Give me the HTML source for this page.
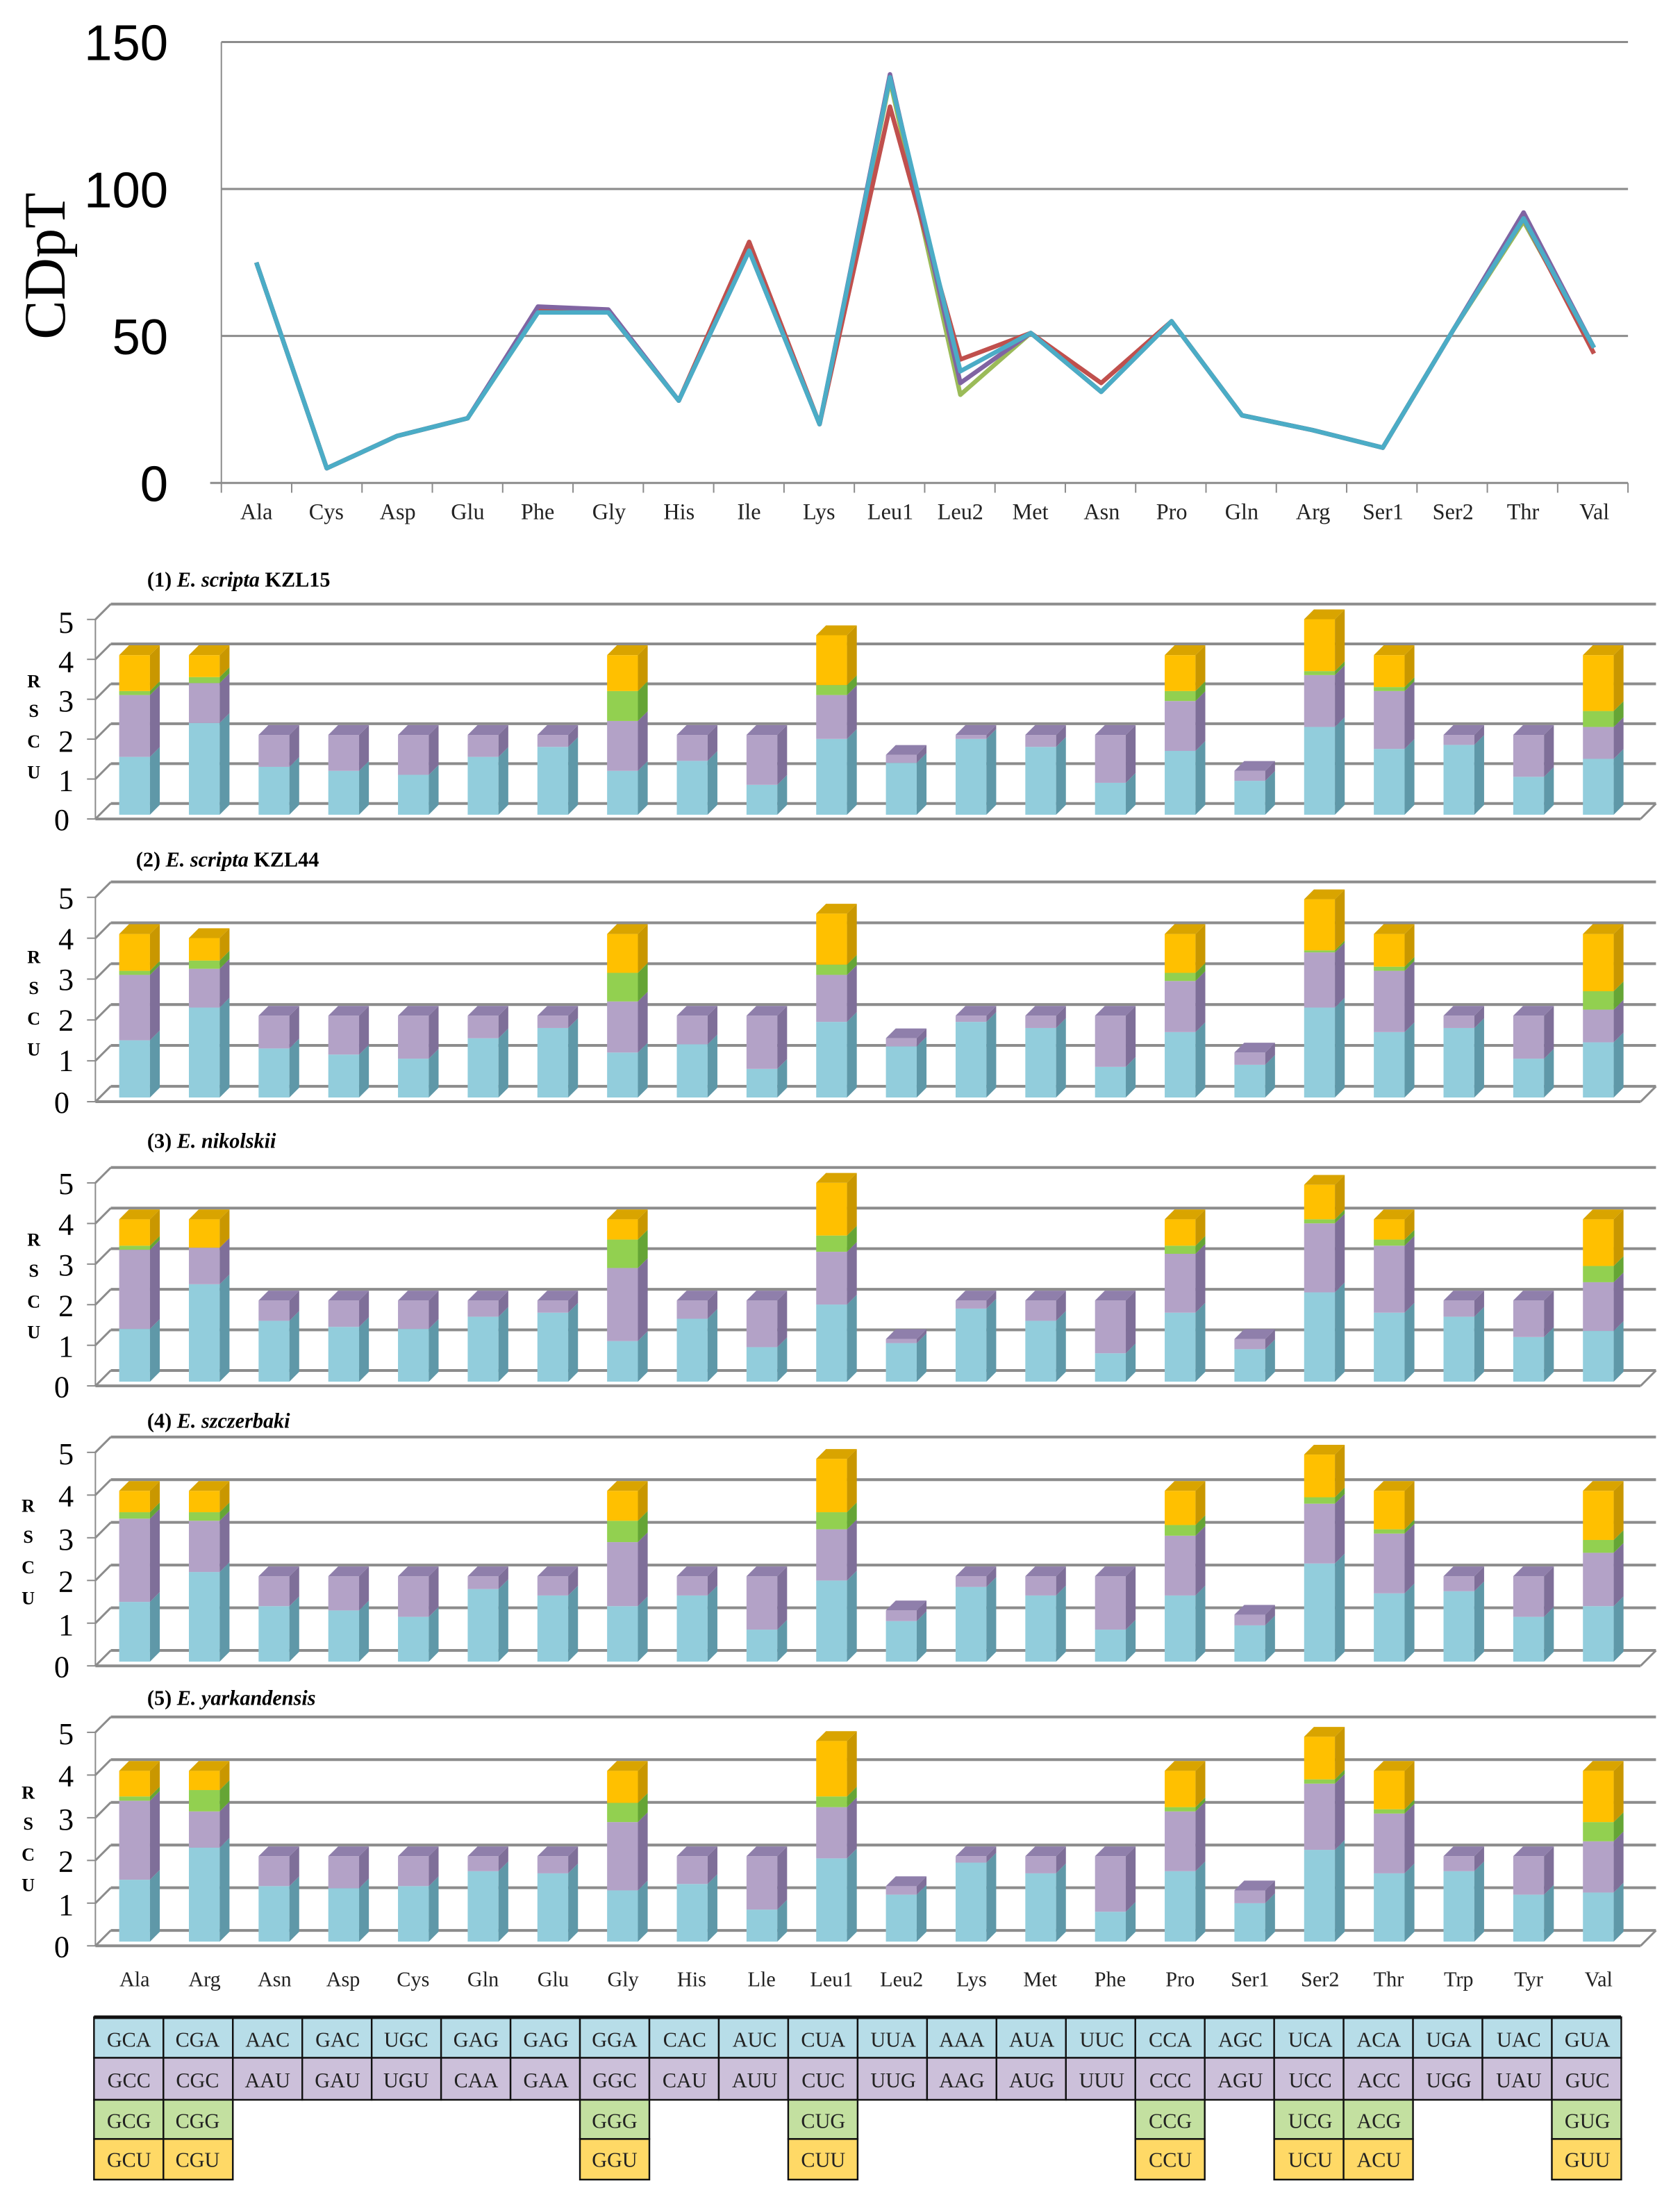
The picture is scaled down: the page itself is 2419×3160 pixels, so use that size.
<!DOCTYPE html>
<html><head><meta charset="utf-8"><style>
html,body{margin:0;padding:0;background:#fff;}
svg{display:block;}
.s{font-family:"Liberation Serif",serif;}
.a{font-family:"Liberation Sans",sans-serif;}
</style></head><body>
<svg id="g" width="2419" height="3160" viewBox="0 0 1200 1568" xmlns="http://www.w3.org/2000/svg">
<rect width="1200" height="1568" fill="#fff"/>
<g stroke="#8c8c8c" stroke-width="1.5">
<line x1="158" y1="30" x2="1163" y2="30"/><line x1="158" y1="135" x2="1163" y2="135"/>
<line x1="158" y1="240" x2="1163" y2="240"/><line x1="150" y1="345" x2="1163" y2="345"/>
<line x1="158" y1="30" x2="158" y2="345" stroke-width="1"/>
</g>
<g class="a" font-size="36" text-anchor="end" fill="#000">
<text x="120" y="43">150</text><text x="120" y="148">100</text><text x="120" y="253">50</text><text x="120" y="358">0</text>
</g>
<text class="s" font-size="42" transform="translate(46,190) rotate(-90)" text-anchor="middle">CDpT</text>
<g id="topticks"></g>
<g class="s" font-size="16" text-anchor="middle" fill="#222">
<text x="183" y="371">Ala</text><text x="233" y="371">Cys</text><text x="284" y="371">Asp</text><text x="334" y="371">Glu</text><text x="384" y="371">Phe</text><text x="435" y="371">Gly</text><text x="485" y="371">His</text><text x="535" y="371">Ile</text><text x="585" y="371">Lys</text><text x="636" y="371">Leu1</text><text x="686" y="371">Leu2</text><text x="736" y="371">Met</text><text x="787" y="371">Asn</text><text x="837" y="371">Pro</text><text x="887" y="371">Gln</text><text x="938" y="371">Arg</text><text x="988" y="371">Ser1</text><text x="1038" y="371">Ser2</text><text x="1088" y="371">Thr</text><text x="1139" y="371">Val</text>
</g>
<g id="lines"></g>
<g class="s" font-size="15" font-weight="bold">
<text x="105" y="419">(1) <tspan font-style="italic">E. scripta</tspan> KZL15</text>
<text x="97" y="619">(2) <tspan font-style="italic">E. scripta</tspan> KZL44</text>
<text x="105" y="820">(3) <tspan font-style="italic">E. nikolskii</tspan></text>
<text x="105" y="1020">(4) <tspan font-style="italic">E. szczerbaki</tspan></text>
<text x="105" y="1218">(5) <tspan font-style="italic">E. yarkandensis</tspan></text>
</g>
<g id="panels"></g>
<g class="s" font-size="22" text-anchor="middle">
<text x="47" y="452">5</text><text x="47" y="480">4</text><text x="47" y="508">3</text><text x="47" y="537">2</text><text x="47" y="565">1</text><text x="44" y="593">0</text>
<text x="47" y="649">5</text><text x="47" y="678">4</text><text x="47" y="707">3</text><text x="47" y="736">2</text><text x="47" y="765">1</text><text x="44" y="795">0</text>
<text x="47" y="853">5</text><text x="47" y="882">4</text><text x="47" y="911">3</text><text x="47" y="940">2</text><text x="47" y="969">1</text><text x="44" y="998">0</text>
<text x="47" y="1046">5</text><text x="47" y="1076">4</text><text x="47" y="1107">3</text><text x="47" y="1137">2</text><text x="47" y="1168">1</text><text x="44" y="1198">0</text>
<text x="47" y="1246">5</text><text x="47" y="1276">4</text><text x="47" y="1307">3</text><text x="47" y="1337">2</text><text x="47" y="1368">1</text><text x="44" y="1398">0</text>
</g>
<g class="s" font-size="13" font-weight="bold" text-anchor="middle">
<text x="24" y="491">R</text><text x="24" y="512">S</text><text x="24" y="534">C</text><text x="24" y="556">U</text>
<text x="24" y="688">R</text><text x="24" y="710">S</text><text x="24" y="732">C</text><text x="24" y="754">U</text>
<text x="24" y="890">R</text><text x="24" y="912">S</text><text x="24" y="934">C</text><text x="24" y="956">U</text>
<text x="20" y="1080">R</text><text x="20" y="1102">S</text><text x="20" y="1124">C</text><text x="20" y="1146">U</text>
<text x="20" y="1285">R</text><text x="20" y="1307">S</text><text x="20" y="1329">C</text><text x="20" y="1351">U</text>
</g>
<g class="s" font-size="15" text-anchor="middle" fill="#222">
<text x="96" y="1419">Ala</text><text x="146" y="1419">Arg</text><text x="196" y="1419">Asn</text><text x="245" y="1419">Asp</text><text x="295" y="1419">Cys</text><text x="345" y="1419">Gln</text><text x="395" y="1419">Glu</text><text x="445" y="1419">Gly</text><text x="494" y="1419">His</text><text x="544" y="1419">Lle</text><text x="594" y="1419">Leu1</text><text x="644" y="1419">Leu2</text><text x="694" y="1419">Lys</text><text x="743" y="1419">Met</text><text x="793" y="1419">Phe</text><text x="843" y="1419">Pro</text><text x="893" y="1419">Ser1</text><text x="943" y="1419">Ser2</text><text x="992" y="1419">Thr</text><text x="1042" y="1419">Trp</text><text x="1092" y="1419">Tyr</text><text x="1142" y="1419">Val</text>
</g>
<g id="table"></g>
<g class="s" font-size="15" text-anchor="middle" fill="#222">
<text x="92" y="1462">GCA</text><text x="141" y="1462">CGA</text><text x="191" y="1462">AAC</text><text x="241" y="1462">GAC</text><text x="290" y="1462">UGC</text><text x="340" y="1462">GAG</text><text x="390" y="1462">GAG</text><text x="439" y="1462">GGA</text><text x="489" y="1462">CAC</text><text x="539" y="1462">AUC</text><text x="588" y="1462">CUA</text><text x="638" y="1462">UUA</text><text x="687" y="1462">AAA</text><text x="737" y="1462">AUA</text><text x="787" y="1462">UUC</text><text x="836" y="1462">CCA</text><text x="886" y="1462">AGC</text><text x="936" y="1462">UCA</text><text x="985" y="1462">ACA</text><text x="1035" y="1462">UGA</text><text x="1085" y="1462">UAC</text><text x="1134" y="1462">GUA</text>
<text x="92" y="1491">GCC</text><text x="141" y="1491">CGC</text><text x="191" y="1491">AAU</text><text x="241" y="1491">GAU</text><text x="290" y="1491">UGU</text><text x="340" y="1491">CAA</text><text x="390" y="1491">GAA</text><text x="439" y="1491">GGC</text><text x="489" y="1491">CAU</text><text x="539" y="1491">AUU</text><text x="588" y="1491">CUC</text><text x="638" y="1491">UUG</text><text x="687" y="1491">AAG</text><text x="737" y="1491">AUG</text><text x="787" y="1491">UUU</text><text x="836" y="1491">CCC</text><text x="886" y="1491">AGU</text><text x="936" y="1491">UCC</text><text x="985" y="1491">ACC</text><text x="1035" y="1491">UGG</text><text x="1085" y="1491">UAU</text><text x="1134" y="1491">GUC</text>
<text x="92" y="1520">GCG</text><text x="141" y="1520">CGG</text><text x="439" y="1520">GGG</text><text x="588" y="1520">CUG</text><text x="836" y="1520">CCG</text><text x="936" y="1520">UCG</text><text x="985" y="1520">ACG</text><text x="1134" y="1520">GUG</text>
<text x="92" y="1548">GCU</text><text x="141" y="1548">CGU</text><text x="439" y="1548">GGU</text><text x="588" y="1548">CUU</text><text x="836" y="1548">CCU</text><text x="936" y="1548">UCU</text><text x="985" y="1548">ACU</text><text x="1134" y="1548">GUU</text>
</g>
</svg>
<script>
(function(){
var NS="http://www.w3.org/2000/svg";
function el(p,t,a){var e=document.createElementNS(NS,t);for(var k in a)e.setAttribute(k,a[k]);p.appendChild(e);return e;}
var tt=document.getElementById("topticks");
for(var i=0;i<=20;i++){var x=158+i*50.25;el(tt,"line",{x1:x,y1:345,x2:x,y2:352,stroke:"#8c8c8c","stroke-width":1});}
var base=[75,5,16,22,58,58,28,79,20,138,38,51,31,55,23,18,12,52,90,46];
var ser=[
 ["#9bbb59",{7:81,9:137,10:30,18:89}],
 ["#c0504d",{7:82,9:128,10:42,12:34,4:59,5:58,19:44}],
 ["#8064a2",{9:139,10:34,4:60,5:59,18:92}],
 ["#4bacc6",{}]];
var lg=document.getElementById("lines");
ser.forEach(function(s){var pts=[];for(var i=0;i<20;i++){var v=(s[1][i]!==undefined)?s[1][i]:base[i];pts.push((183+50.3*i)+","+(345-v*2.1));}
 el(lg,"polyline",{points:pts.join(" "),fill:"none",stroke:s[0],"stroke-width":3.2,"stroke-linejoin":"round"});});
var P=[
[[1.45,3.0,3.1,4],[2.3,3.3,3.45,4],[1.2,2],[1.1,2],[1.0,2],[1.45,2],[1.7,2],[1.1,2.35,3.1,4],[1.35,2],[0.75,2],[1.9,3.0,3.25,4.5],[1.3,1.5],[1.9,2],[1.7,2],[0.8,2],[1.6,2.85,3.1,4],[0.85,1.1],[2.2,3.5,3.6,4.9],[1.65,3.1,3.2,4],[1.75,2],[0.95,2],[1.4,2.2,2.6,4]],
[[1.4,3.0,3.1,4],[2.2,3.15,3.35,3.9],[1.2,2],[1.05,2],[0.95,2],[1.45,2],[1.7,2],[1.1,2.35,3.05,4],[1.3,2],[0.7,2],[1.85,3.0,3.25,4.5],[1.25,1.45],[1.85,2],[1.7,2],[0.75,2],[1.6,2.85,3.05,4],[0.8,1.1],[2.2,3.55,3.6,4.85],[1.6,3.1,3.2,4],[1.7,2],[0.95,2],[1.35,2.15,2.6,4]],
[[1.3,3.25,3.35,4],[2.4,3.3,3.3,4],[1.5,2],[1.35,2],[1.3,2],[1.6,2],[1.7,2],[1.0,2.8,3.5,4],[1.55,2],[0.85,2],[1.9,3.2,3.6,4.9],[0.95,1.05],[1.8,2],[1.5,2],[0.7,2],[1.7,3.15,3.35,4],[0.8,1.05],[2.2,3.9,4.0,4.85],[1.7,3.35,3.5,4],[1.6,2],[1.1,2],[1.25,2.45,2.85,4]],
[[1.4,3.35,3.5,4],[2.1,3.3,3.5,4],[1.3,2],[1.2,2],[1.05,2],[1.7,2],[1.55,2],[1.3,2.8,3.3,4],[1.55,2],[0.75,2],[1.9,3.1,3.5,4.75],[0.95,1.2],[1.75,2],[1.55,2],[0.75,2],[1.55,2.95,3.2,4],[0.85,1.1],[2.3,3.7,3.85,4.85],[1.6,3.0,3.1,4],[1.65,2],[1.05,2],[1.3,2.55,2.85,4]],
[[1.45,3.3,3.4,4],[2.2,3.05,3.55,4],[1.3,2],[1.25,2],[1.3,2],[1.65,2],[1.6,2],[1.2,2.8,3.25,4],[1.35,2],[0.75,2],[1.95,3.15,3.4,4.7],[1.1,1.3],[1.85,2],[1.6,2],[0.7,2],[1.65,3.05,3.15,4],[0.9,1.2],[2.15,3.7,3.8,4.8],[1.6,3.0,3.1,4],[1.65,2],[1.1,2],[1.15,2.35,2.8,4]]];
var Y0=[585,787,990,1190,1390],U=[28.5,29.2,29,30.5,30.5];
var front=["#92cddc","#b3a2c7","#92d050","#ffc000"],side=["#5f98a8","#7f6f99","#65a535","#c99700"],topc=["#a9d8e4","#8f7fab","#7cc040","#d9a400"];
var pg=document.getElementById("panels");
P.forEach(function(d,p){var y0=Y0[p],u=U[p],dx=11,dy=11;
 for(var k=0;k<=5;k++){var y=y0-k*u;
  el(pg,"line",{x1:68+dx,y1:y-dy,x2:1183,y2:y-dy,stroke:"#8c8c8c","stroke-width":2});
  el(pg,"line",{x1:68,y1:y,x2:68+dx,y2:y-dy,stroke:"#8c8c8c","stroke-width":1.5});
  el(pg,"line",{x1:62,y1:y,x2:68,y2:y,stroke:"#8c8c8c","stroke-width":1});}
 el(pg,"line",{x1:68,y1:y0,x2:1172,y2:y0,stroke:"#8c8c8c","stroke-width":2});
 el(pg,"line",{x1:1172,y1:y0,x2:1183,y2:y0-dy,stroke:"#8c8c8c","stroke-width":1.5});
 el(pg,"line",{x1:68,y1:y0-5*u,x2:68,y2:y0,stroke:"#8c8c8c","stroke-width":1});
 d.forEach(function(b,i){var cx=96+49.8*i,w=11,sd=7,prev=0;
  for(var j=0;j<b.length;j++){var v=b[j];if(v<=prev){continue;}
   var yt=y0-v*u-3,yb=y0-prev*u-3;
   el(pg,"rect",{x:cx-w,y:yt,width:2*w,height:yb-yt,fill:front[j]});
   el(pg,"polygon",{points:(cx+w)+","+yb+" "+(cx+w+sd)+","+(yb-sd)+" "+(cx+w+sd)+","+(yt-sd)+" "+(cx+w)+","+yt,fill:side[j]});
   if(j==b.length-1)el(pg,"polygon",{points:(cx-w)+","+yt+" "+(cx+w)+","+yt+" "+(cx+w+sd)+","+(yt-sd)+" "+(cx-w+sd)+","+(yt-sd),fill:topc[j]});
   prev=v;}
 });
});
var tg=document.getElementById("table"),cols=["#b7dde8","#ccc0da","#c3e0a0","#ffd966"],ry=[1441,1470,1500,1528,1557];
var g3=[0,1,7,10,15,17,18,21];
for(var r=0;r<4;r++){for(var c=0;c<22;c++){if(r>=2&&g3.indexOf(c)<0)continue;
 el(tg,"rect",{x:67+49.6*c,y:ry[r],width:49.6,height:ry[r+1]-ry[r],fill:cols[r],stroke:"#111","stroke-width":1.2});}}
el(tg,"line",{x1:67,y1:1441,x2:1158,y2:1441,stroke:"#111","stroke-width":2.5});
})();
</script>
</body></html>
